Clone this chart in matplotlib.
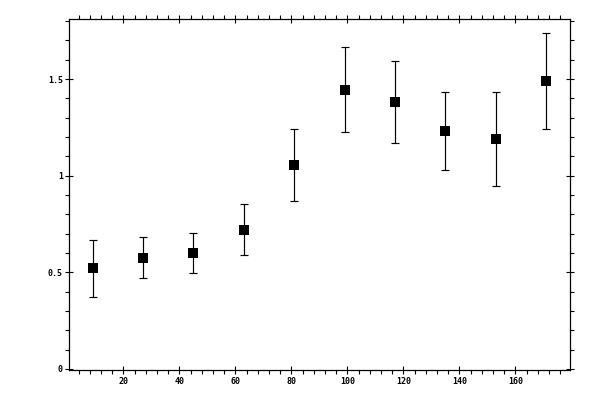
import matplotlib
matplotlib.use("Agg")
import matplotlib.pyplot as plt
from matplotlib.ticker import MultipleLocator
import numpy as np

x_vals = [9, 27, 45, 63, 81, 99, 117, 135, 153, 171]
y_vals = [0.521, 0.573, 0.599, 0.718, 1.054, 1.442, 1.380, 1.230, 1.188, 1.488]
y_upper = [0.666, 0.681, 0.702, 0.852, 1.240, 1.664, 1.592, 1.433, 1.433, 1.737]
y_lower = [0.371, 0.469, 0.495, 0.588, 0.868, 1.225, 1.168, 1.028, 0.945, 1.240]
x_ticks = [20, 40, 60, 80, 100, 120, 140, 160]
y_ticks = [0, 0.5, 1, 1.5]
y_tick_labels = ["0", "0.5", "1", "1.5"]

fig = plt.figure(figsize=(6, 4), dpi=100)
ax = fig.add_axes([69.3 / 600, 1 - 370.3 / 400, (570.3 - 69.3) / 600, (370.3 - 19.3) / 400])

y = np.array(y_vals)
yerr = np.vstack([y - np.array(y_lower), np.array(y_upper) - y])
ax.errorbar(x_vals, y, yerr=yerr, fmt="none", ecolor="black",
            elinewidth=0.85, capsize=2.7, capthick=0.85)
ax.plot(x_vals, y, "s", color="black", ms=7.0, mew=0, zorder=3)

ax.set_xlim(0.71, 179.6)
ax.set_ylim(-0.007, 1.809)

ax.set_xticks(x_ticks)
ax.set_xticklabels([str(t) for t in x_ticks])
ax.set_yticks(y_ticks)
ax.set_yticklabels(y_tick_labels)
ax.xaxis.set_minor_locator(MultipleLocator(4))
ax.yaxis.set_minor_locator(MultipleLocator(0.1))

for s in ax.spines.values():
    s.set_linewidth(0.9)

ax.tick_params(which="major", direction="inout", length=5.3, width=0.8,
               top=True, right=True, labelsize=6)
ax.tick_params(which="minor", direction="out", length=2.6, width=0.8,
               top=True, right=True)
ax.tick_params(axis="x", which="major", pad=2.0)
ax.tick_params(axis="y", which="major", pad=2.0)
for lab in ax.get_xticklabels() + ax.get_yticklabels():
    lab.set_family("DejaVu Sans Mono")
    lab.set_fontweight("bold")

fig.savefig("out.png", dpi=100)
